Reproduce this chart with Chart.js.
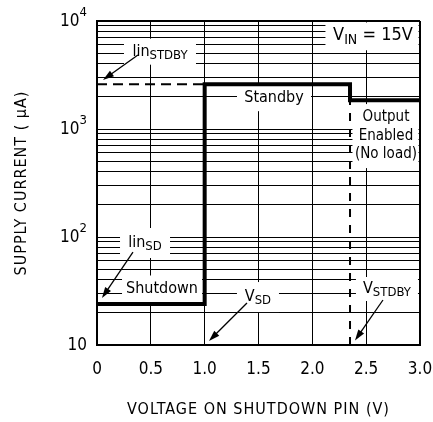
<!DOCTYPE html>
<html>
<head>
<meta charset="utf-8">
<script src="https://cdn.jsdelivr.net/npm/chart.js@4.4.0/dist/chart.umd.min.js"></script>
<style>
html, body { margin: 0; padding: 0; background: #fff; }
#wrap { width: 433px; height: 422px; }
</style>
</head>
<body>
<div id="wrap"><canvas id="supplyChart"></canvas></div>
<script>
// Supply current vs shutdown pin voltage (step curve)
const pinVoltage = [0, 1.0, 1.0, 2.35, 2.35, 3.0];
const supplyCurrent = [24, 24, 2600, 2600, 1850, 1850];

// lin_STDBY dashed reference
const standbyRefVoltage = [0, 1.0];
const standbyRefCurrent = [2600, 2600];

// V_STDBY dashed threshold
const thresholdVoltage = [2.35, 2.35];
const thresholdCurrent = [10, 1850];

const xTicks = [0, 0.5, 1.0, 1.5, 2.0, 2.5, 3.0];
const yGrid = [10, 20, 30, 40, 50, 60, 70, 80, 90,
               100, 200, 300, 400, 500, 600, 700, 800, 900,
               1000, 2000, 3000, 4000, 5000, 6000, 7000, 8000, 9000, 10000];
const yDecades = [10, 100, 1000, 10000];
const yExponents = ['', '2', '3', '4'];

const FONT = '"DejaVu Sans Condensed", "DejaVu Sans"';

// Notes: anchored in data coordinates, white box size in px
const notes = [
    { x: 0.585, y: 5200, w: 72, h: 26, parts: [['lin', 16, 0], ['STDBY', 13, 4]] },
    { x: 1.644, y: 1950, w: 74, h: 27, parts: [['Standby', 16, 0]] },
    { x: 2.684, y: 860, w: 67, h: 64, lines: ['Output', 'Enabled', '(No load)'] },
    { x: 2.563, y: 7300, w: 95, h: 29, parts: [['V', 18, 0], ['IN', 14, 5], [' = 15V', 18, 0]] },
    { x: 0.446, y: 88, w: 50, h: 30, parts: [['lin', 16, 0], ['SD', 13, 4]] },
    { x: 0.604, y: 33, w: 80, h: 27, parts: [['Shutdown', 16, 0]] },
    { x: 1.495, y: 27.8, w: 42, h: 30, parts: [['V', 16, 0], ['SD', 13, 4]] },
    { x: 2.693, y: 33, w: 62, h: 24, parts: [['V', 16, 0], ['STDBY', 13, 4]] }
];

const arrows = [
    { from: [0.38, 4840], to: [0.056, 2850] },
    { from: [0.334, 72.6], to: [0.046, 27.2] },
    { from: [1.393, 24.5], to: [1.04, 10.9] },
    { from: [2.656, 26.1], to: [2.396, 11.0] }
];

function drawParts(ctx, parts, cx, cy) {
    let total = 0;
    parts.forEach(p => {
        ctx.font = p[1] + 'px ' + FONT;
        total += ctx.measureText(p[0]).width;
    });
    let px = cx - total / 2;
    parts.forEach(p => {
        ctx.font = p[1] + 'px ' + FONT;
        ctx.fillText(p[0], px, cy + p[2]);
        px += ctx.measureText(p[0]).width;
    });
}

const notesPlugin = {
    id: 'curveNotes',
    beforeDatasetsDraw(chart) {
        const { ctx, chartArea, scales: { x, y } } = chart;
        ctx.save();
        ctx.beginPath();
        ctx.rect(chartArea.left + 1.5, chartArea.top + 1.5,
                 chartArea.right - chartArea.left - 3, chartArea.bottom - chartArea.top - 3);
        ctx.clip();
        ctx.fillStyle = '#fff';
        notes.forEach(n => {
            const cx = x.getPixelForValue(n.x);
            const cy = y.getPixelForValue(n.y);
            ctx.fillRect(cx - n.w / 2, cy - n.h / 2, n.w, n.h);
        });
        ctx.restore();
    },
    afterDatasetsDraw(chart) {
        const { ctx, scales: { x, y } } = chart;
        ctx.save();
        ctx.fillStyle = '#000';
        ctx.textBaseline = 'middle';
        ctx.textAlign = 'left';
        notes.forEach(n => {
            const cx = x.getPixelForValue(n.x);
            const cy = y.getPixelForValue(n.y);
            if (n.lines) {
                ctx.font = '15px ' + FONT;
                ctx.textAlign = 'center';
                n.lines.forEach((t, i) => ctx.fillText(t, cx, cy + (i - 1) * 18.5));
                ctx.textAlign = 'left';
            } else {
                drawParts(ctx, n.parts, cx, cy);
            }
        });

        // arrows
        ctx.strokeStyle = '#000';
        ctx.lineWidth = 1.3;
        arrows.forEach(a => {
            const x1 = x.getPixelForValue(a.from[0]), y1 = y.getPixelForValue(a.from[1]);
            const x2 = x.getPixelForValue(a.to[0]), y2 = y.getPixelForValue(a.to[1]);
            const ang = Math.atan2(y2 - y1, x2 - x1);
            ctx.beginPath();
            ctx.moveTo(x1, y1);
            ctx.lineTo(x2 - 8 * Math.cos(ang), y2 - 8 * Math.sin(ang));
            ctx.stroke();
            ctx.beginPath();
            ctx.moveTo(x2, y2);
            ctx.lineTo(x2 - 11 * Math.cos(ang) + 3.5 * Math.sin(ang), y2 - 11 * Math.sin(ang) - 3.5 * Math.cos(ang));
            ctx.lineTo(x2 - 11 * Math.cos(ang) - 3.5 * Math.sin(ang), y2 - 11 * Math.sin(ang) + 3.5 * Math.cos(ang));
            ctx.closePath();
            ctx.fill();
        });
        ctx.restore();
    },
    afterDraw(chart) {
        const { ctx, chartArea, scales: { y } } = chart;
        ctx.save();
        ctx.fillStyle = '#000';

        // y tick labels: 10, 10^2, 10^3, 10^4
        ctx.textBaseline = 'middle';
        yDecades.forEach((v, i) => {
            const py = y.getPixelForValue(v);
            const right = chartArea.left - 10;
            ctx.font = '17px ' + FONT;
            ctx.textAlign = 'right';
            if (yExponents[i]) {
                ctx.font = '13px ' + FONT;
                const ew = ctx.measureText(yExponents[i]).width;
                ctx.fillText(yExponents[i], right, py - 8);
                ctx.font = '17px ' + FONT;
                ctx.fillText('10', right - ew, py + 1);
            } else {
                ctx.fillText('10', right, py + 1);
            }
        });

        // axis titles
        ctx.font = '16px ' + FONT;
        ctx.textAlign = 'center';
        ctx.letterSpacing = '1px';
        ctx.fillText('VOLTAGE ON SHUTDOWN PIN (V)', (chartArea.left + chartArea.right) / 2, 410);
        ctx.translate(22, (chartArea.top + chartArea.bottom) / 2);
        ctx.rotate(-Math.PI / 2);
        ctx.fillText('SUPPLY CURRENT ( \u03BCA)', 0, 0);
        ctx.restore();
    }
};

function toPoints(xs, ys) {
    return xs.map((v, i) => ({ x: v, y: ys[i] }));
}

const ctx = document.getElementById('supplyChart').getContext('2d');
new Chart(ctx, {
    type: 'line',
    data: {
        datasets: [{
            label: 'Supply current',
            data: toPoints(pinVoltage, supplyCurrent),
            borderColor: '#000',
            borderWidth: 4,
            borderJoinStyle: 'miter',
            pointRadius: 0,
            tension: 0,
            fill: false
        }, {
            label: 'lin STDBY',
            data: toPoints(standbyRefVoltage, standbyRefCurrent),
            borderColor: '#000',
            borderWidth: 2,
            borderDash: [10, 6],
            pointRadius: 0,
            fill: false
        }, {
            label: 'V STDBY',
            data: toPoints(thresholdVoltage, thresholdCurrent),
            borderColor: '#000',
            borderWidth: 2,
            borderDash: [8, 8],
            pointRadius: 0,
            fill: false
        }]
    },
    options: {
        responsive: true,
        maintainAspectRatio: false,
        animation: false,
        layout: { padding: { top: 21, right: 13, bottom: 0, left: 0 } },
        plugins: {
            legend: { display: false },
            tooltip: { enabled: false }
        },
        scales: {
            x: {
                type: 'linear',
                min: 0,
                max: 3,
                afterBuildTicks: scale => { scale.ticks = xTicks.map(v => ({ value: v })); },
                afterFit: scale => {
                    scale.height = 77;
                    scale.paddingLeft = 0;
                    scale.paddingRight = 0;
                },
                ticks: {
                    color: '#000',
                    font: { family: FONT, size: 17 },
                    padding: 14,
                    maxRotation: 0,
                    autoSkip: false,
                    callback: v => (v === 0 ? '0' : v.toFixed(1))
                },
                grid: {
                    color: '#000',
                    lineWidth: c => (c.tick && c.tick.value === 3 ? 2 : 1),
                    drawTicks: false
                },
                border: { color: '#000', width: 2 }
            },
            y: {
                type: 'logarithmic',
                min: 10,
                max: 10000,
                afterBuildTicks: scale => { scale.ticks = yGrid.map(v => ({ value: v })); },
                afterFit: scale => {
                    scale.width = 97;
                    scale.paddingTop = 0;
                    scale.paddingBottom = 0;
                },
                ticks: {
                    display: true,
                    autoSkip: false,
                    callback: () => ''
                },
                grid: {
                    color: '#000',
                    lineWidth: c => (c.tick && c.tick.value === 10000 ? 2 : 1),
                    drawTicks: false
                },
                border: { color: '#000', width: 2 }
            }
        }
    },
    plugins: [notesPlugin]
});
</script>
</body>
</html>
